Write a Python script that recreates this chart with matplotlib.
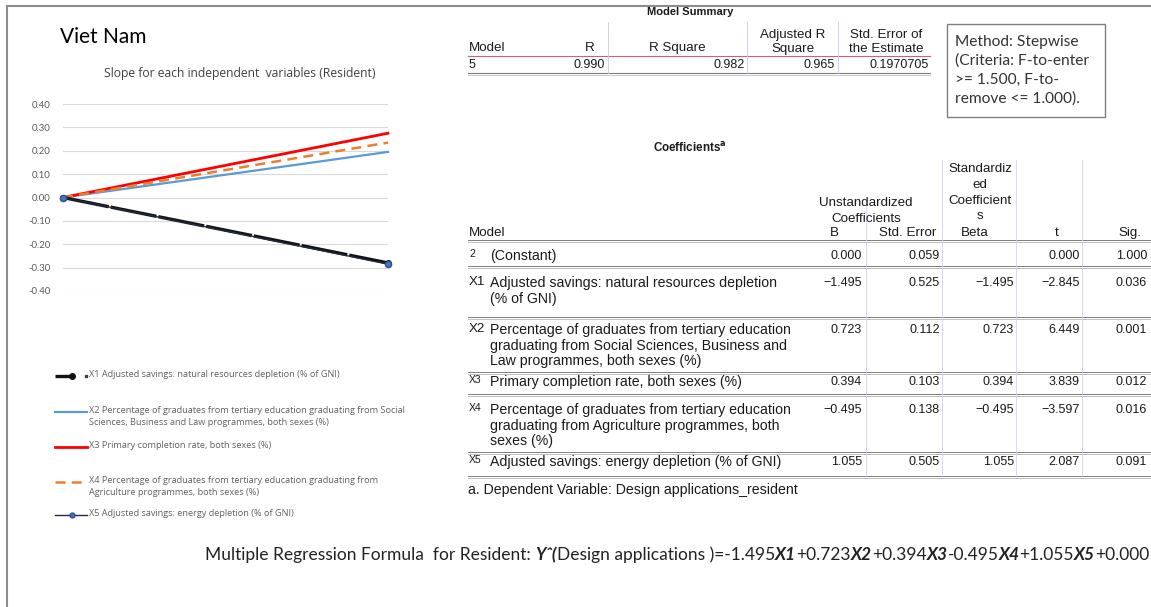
import matplotlib
matplotlib.use('Agg')
import matplotlib.pyplot as plt
import matplotlib.transforms as mtrans
from matplotlib.lines import Line2D

W, H = 1151, 607

# slope lines (start value, end value) for each independent variable
series = ['X1', 'X2', 'X3', 'X4', 'X5']
x_pts = [0, 1]
y_end = [-0.28, 0.195, 0.275, 0.235, -0.285]
yticks = [-0.4, -0.3, -0.2, -0.1, 0.0, 0.1, 0.2, 0.3, 0.4]
legend_labels = [
    'X1 Adjusted savings: natural resources depletion (% of GNI)',
    'X2 Percentage of graduates from tertiary education graduating from Social\n'
    'Sciences, Business and Law programmes, both sexes (%)',
    'X3 Primary completion rate, both sexes (%)',
    'X4 Percentage of graduates from tertiary education graduating from\n'
    'Agriculture programmes, both sexes (%)',
    'X5 Adjusted savings: energy depletion (% of GNI)',
]

# model summary
summary_head = ['Model', 'R', 'R Square', 'Adjusted R\nSquare', 'Std. Error of\nthe Estimate']
summary_vals = ['5', '0.990', '0.982', '0.965', '0.1970705']
method_text = ['Method: Stepwise', '(Criteria: F-to-enter', '>= 1.500, F-to-', 'remove <= 1.000).']

# coefficients
coef_ids = ['2', 'X1', 'X2', 'X3', 'X4', 'X5']
coef_names = [
    '(Constant)',
    'Adjusted savings: natural resources depletion\n(% of GNI)',
    'Percentage of graduates from tertiary education\ngraduating from Social Sciences, Business and\nLaw programmes, both sexes (%)',
    'Primary completion rate, both sexes (%)',
    'Percentage of graduates from tertiary education\ngraduating from Agriculture programmes, both\nsexes (%)',
    'Adjusted savings: energy depletion (% of GNI)',
]
coef_b = ['0.000', '\u22121.495', '0.723', '0.394', '\u22120.495', '1.055']
coef_se = ['0.059', '0.525', '0.112', '0.103', '0.138', '0.505']
coef_beta = ['', '\u22121.495', '0.723', '0.394', '\u22120.495', '1.055']
coef_t = ['0.000', '\u22122.845', '6.449', '3.839', '\u22123.597', '2.087']
coef_sig = ['1.000', '0.036', '0.001', '0.012', '0.016', '0.091']

formula = [
    ('Multiple Regression Formula  for Resident: ', False),
    ('Y\u02c6(', True),
    ('Design applications )=-1.495', False), ('X1', True),
    ('+0.723', False), ('X2', True),
    ('+0.394', False), ('X3', True),
    ('-0.495', False), ('X4', True),
    ('+1.055', False), ('X5', True),
    ('+0.000', False),
]

colors = ['#111111', '#5b9bd5', '#ff0000', '#ed7d31', '#1f2a44']
styles = [
    dict(lw=2.4, ls=(0, (14, 0.6)), marker='o', ms=4, mfc='#111111', mec='#111111'),
    dict(lw=1.6, ls='-'),
    dict(lw=2.0, ls='-'),
    dict(lw=1.8, ls=(0, (4, 2.5))),
    dict(lw=1.0, ls='-', marker='o', ms=4.5, mfc='#4472c4', mec='#2f528f'),
]

tab_font = ['Liberation Sans', 'DejaVu Sans']
cal_font = ['Lato', 'DejaVu Sans']
leg_font = ['Open Sans', 'DejaVu Sans']

fig = plt.figure(figsize=(W / 100, H / 100), dpi=100)
fig.patch.set_facecolor('white')

# pixel-space overlay for page layout
pg = fig.add_axes([0, 0, 1, 1])
pg.set_xlim(0, W)
pg.set_ylim(H, 0)
pg.axis('off')
pg.patch.set_alpha(0)


def down(px):
    # shift used for top-anchored multi-line text
    return pg.transData + mtrans.ScaledTranslation(0, px / 100, fig.dpi_scale_trans)


# outer frame
pg.plot([7, W], [6, 6], color='#8c8c8c', lw=1.5)
pg.plot([7, 7], [6, H], color='#8c8c8c', lw=1.5)

pg.text(60, 37, 'Viet Nam', fontsize=15, family=cal_font, va='center', ha='left')
pg.text(240, 73, 'Slope for each independent  variables (Resident)', fontsize=8.7,
        family=leg_font, color='#404040', va='center', ha='center')

# chart
x0, x1, ytop, ybot = 63, 388, 104, 291
ax = fig.add_axes([x0 / W, 1 - ybot / H, (x1 - x0) / W, (ybot - ytop) / H])
ax.set_xlim(0, 1)
ax.set_ylim(-0.4, 0.4)
ax.set_yticks(yticks)
ax.set_yticklabels(['{:.2f}'.format(v) for v in yticks], fontsize=6.8,
                   color='#595959', family=cal_font)
ax.set_xticks([])
ax.tick_params(axis='y', length=0, pad=9)
for s in ax.spines.values():
    s.set_visible(False)
ax.grid(axis='y', color='#d9d9d9', lw=0.8)
ax.set_axisbelow(True)
order = [1, 2, 3, 0, 4]
for i in order:
    ax.plot(x_pts, [0, y_end[i]], color=colors[i], clip_on=False, **styles[i])

# legend drawn by hand below the chart
leg_y = [376, 412, 447, 482, 515]
for i, (lab, yy) in enumerate(zip(legend_labels, leg_y)):
    st = {k: v for k, v in styles[i].items() if k not in ('marker', 'ms', 'mfc', 'mec')}
    xe = 73 if i == 0 else 87
    pg.add_line(Line2D([55, xe], [yy, yy], color=colors[i], **st))
    if i in (0, 4):
        pg.plot([72], [yy], marker='o', ms=4 if i == 0 else 3.5,
                mfc=styles[i]['mfc'], mec=styles[i]['mec'])
    if i == 0:
        pg.plot([86], [yy], marker='s', ms=1.5, color='#404040')
    pg.text(89, yy, lab, fontsize=6.6, family=leg_font, color='#606060',
            va='top', ha='left', linespacing=1.4, transform=down(6))

# model summary table
tk = dict(family=tab_font, fontsize=9, color='#1a1a1a')
th = dict(family=tab_font, fontsize=9.6, color='#1a1a1a')
tn = dict(family=tab_font, fontsize=10.2, color='#1a1a1a')
pg.text(690, 12, 'Model Summary', fontweight='bold', ha='center', va='center',
        family=tab_font, fontsize=8, color='#1a1a1a')
pg.text(469, 48, summary_head[0], ha='left', va='center', **th)
pg.text(590, 48, summary_head[1], ha='center', va='center', **th)
pg.text(677, 48, summary_head[2], ha='center', va='center', **th)
pg.text(793, 55, summary_head[3], ha='center', va='bottom', multialignment='center',
        linespacing=1.25, **th)
pg.text(886, 55, summary_head[4], ha='center', va='bottom', multialignment='center',
        linespacing=1.25, **th)
s_right = [None, 605, 745, 835, 929]
for j, v in enumerate(summary_vals):
    if j == 0:
        pg.text(469, 65, v, ha='left', va='center', **tk)
    else:
        pg.text(s_right[j], 65, v, ha='right', va='center', **tk)
pg.plot([468, 930], [56, 56], color='#c86478', lw=0.8)
pg.plot([468, 930], [73, 73], color='#7f7f7f', lw=0.8)
pg.plot([468, 930], [75, 75], color='#bfbfbf', lw=0.6)
for xv in [608, 747, 838]:
    pg.plot([xv, xv], [22, 73], color='#c8c8f0', lw=0.6)

# method box
pg.add_patch(plt.Rectangle((947, 24), 158, 93, fill=False, ec='#7f7f7f', lw=1))
for k, line in enumerate(method_text):
    pg.text(955, 42 + 19 * k, line, fontsize=11.2, family=cal_font, color='#333333',
            ha='left', va='center')

# coefficients table
pg.text(690, 148, 'Coefficients$^{\\mathbf{a}}$', fontweight='bold', ha='center', va='center',
        family=tab_font, fontsize=8.4, color='#1a1a1a')
pg.text(980, 170, 'Standardiz\ned\nCoefficient\ns', ha='center', va='top',
        linespacing=1.42, transform=down(7), **th)
pg.text(866, 204, 'Unstandardized\nCoefficients', ha='center', va='top', linespacing=1.42,
        transform=down(7), **th)
pg.text(469, 233, 'Model', ha='left', va='center', **th)
col_right = [862, 940, 1014, 1080, 1147]
col_head = ['B', 'Std. Error', 'Beta', 't', 'Sig.']
col_head_x = [834, 908, 975, 1057, 1130]
for hx, h in zip(col_head_x, col_head):
    pg.text(hx, 233, h, ha='center', va='center', **th)

row_y = [256, 283, 330, 382, 410, 462]
line_y = [240, 266, 317, 372, 394, 452, 476]
for yy in line_y:
    pg.plot([468, W], [yy, yy], color='#808080', lw=0.7)
    pg.plot([468, W], [yy + 2, yy + 2], color='#c0c0c0', lw=0.7)
for xv, ys in zip([866, 942, 1016, 1082], [200, 160, 160, 160]):
    pg.plot([xv, xv], [ys, 476], color='#d0d0f5', lw=0.6)

for r, yy in enumerate(row_y):
    pg.text(469, yy, coef_ids[r], ha='left', va='top', fontsize=9.6 if r in (1, 2) else 7.5,
            family=tab_font, color='#1a1a1a', transform=down(7))
    pg.text(490, yy, coef_names[r], ha='left', va='top', linespacing=1.15,
            transform=down(7), **tn)
    for c, col in enumerate([coef_b, coef_se, coef_beta, coef_t, coef_sig]):
        pg.text(col_right[c], yy, col[r], ha='right', va='center', **tk)

pg.text(468, 490, 'a. Dependent Variable: Design applications_resident', ha='left',
        va='center', **tn)

# regression formula, laid out piece by piece
rend = fig.canvas.get_renderer()
size = 12
texts = []
cx = 205
for s, bi in formula:
    t = pg.text(cx, 555, s, fontsize=size, family=cal_font, va='center', ha='left',
                fontweight='bold' if bi else 'normal', fontstyle='italic' if bi else 'normal',
                color='#222222')
    cx += t.get_window_extent(renderer=rend).width
    texts.append(t)
scale = (1148 - 205) / (cx - 205)
cx = 205
for t in texts:
    t.set_fontsize(size * scale)
    t.set_x(cx)
    cx += t.get_window_extent(renderer=rend).width

fig.savefig('out.png', dpi=100)
